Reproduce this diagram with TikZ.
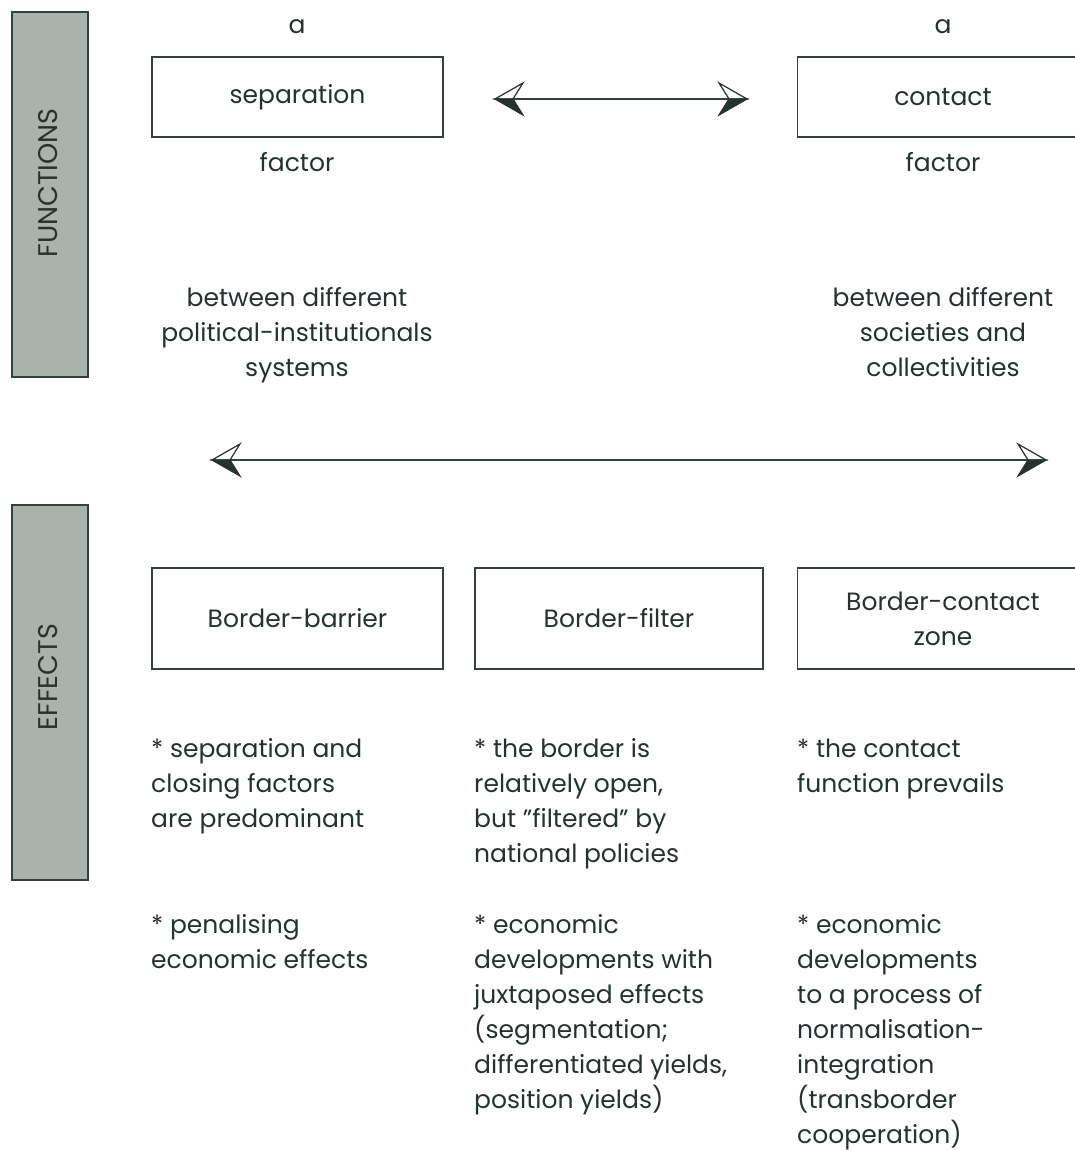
\documentclass[tikz,border=0pt]{standalone}
\usepackage{fontspec}
\setmainfont{Poppins}
\definecolor{ink}{HTML}{28322D}
\definecolor{barfill}{HTML}{A8B3AE}
\definecolor{edge}{HTML}{35413B}
\tikzset{
  box/.style={draw=edge, line width=1.6pt, minimum width=291pt, inner sep=0pt, align=center, text=ink},
  bar/.style={draw=edge, line width=1.4pt, fill=barfill},
  barlbl/.style={text=ink, inner sep=0pt, rotate=90, font=\fontsize{27}{32}\selectfont},
  lbl/.style={text=ink, inner sep=0pt, align=center},
  txt/.style={text=ink, inner sep=0pt, align=left, anchor=base west},
  conn/.style={draw=edge, line width=1.6pt},
  dart/.pic={
    \filldraw[fill=white, draw=ink, line width=1.2pt, line join=miter] (0,0) -- (28,-16) -- (18,0) -- cycle;
    \filldraw[fill=ink, draw=ink, line width=1.2pt, line join=miter] (0,0) -- (28,16) -- (18,0) -- cycle;
  }
}
\begin{document}
\begin{tikzpicture}[x=1pt, y=-1pt, font=\fontsize{25}{35}\selectfont]
\useasboundingbox (0,0) rectangle (1075,1150);
\clip (0,0) rectangle (1075,1150);
\fill[white] (0,0) rectangle (1075,1150);

% side bars
\path[bar] (12,12) rectangle (88,377);
\node[barlbl] (fun) at (48,183) {FUNCTIONS};
\path[bar] (12,505) rectangle (88,880);
\node[barlbl] (eff) at (48,677) {EFFECTS};

% functions
\node[lbl, anchor=base] (a1) at (297,34) {a};
\node[lbl, anchor=base] (a2) at (943,34) {a};
\node[box, minimum height=80pt] (sep) at (297.5,97) {separation};
\node[box, minimum height=80pt] (con) at (943,97) {contact};
\node[lbl, anchor=base] (f1) at (297,172) {factor};
\node[lbl, anchor=base] (f2) at (943,172) {factor};
% multi-line nodes: base anchor = baseline of last line
\node[lbl, anchor=base] (p1) at (297,376) {between different\\political-institutionals\\systems};
\node[lbl, anchor=base] (p2) at (943,376) {between different\\societies and\\collectivities};

% arrows
\coordinate (t1) at (495,99);
\coordinate (t2) at (747,99);
\draw[conn] (t1) -- (t2);
\pic at (t1) {dart};
\pic[xscale=-1] at (t2) {dart};
\coordinate (m1) at (212,460);
\coordinate (m2) at (1046,460);
\draw[conn] (m1) -- (m2);
\pic at (m1) {dart};
\pic[xscale=-1] at (m2) {dart};

% effects
\node[box, minimum height=101pt] (bb) at (297.5,618.5) {Border-barrier};
\node[box, minimum width=288pt, minimum height=101pt] (bf) at (619,618.5) {Border-filter};
\node[box, minimum height=101pt] (bc) at (943,618.5) {Border-contact\\zone};

\node[txt] (e1) at (151,827) {* separation and\\closing factors\\are predominant};
\node[txt] (e2) at (474,862) {* the border is\\relatively open,\\but "filtered" by\\national policies};
\node[txt] (e3) at (797,792) {* the contact\\function prevails};
\node[txt] (g1) at (151,968) {* penalising\\economic effects};
\node[txt] (g2) at (474,1108) {* economic\\developments with\\juxtaposed effects\\(segmentation;\\differentiated yields,\\position yields)};
\node[txt] (g3) at (797,1143) {* economic\\developments\\to a process of\\normalisation-\\integration\\(transborder\\cooperation)};
\end{tikzpicture}
\end{document}
